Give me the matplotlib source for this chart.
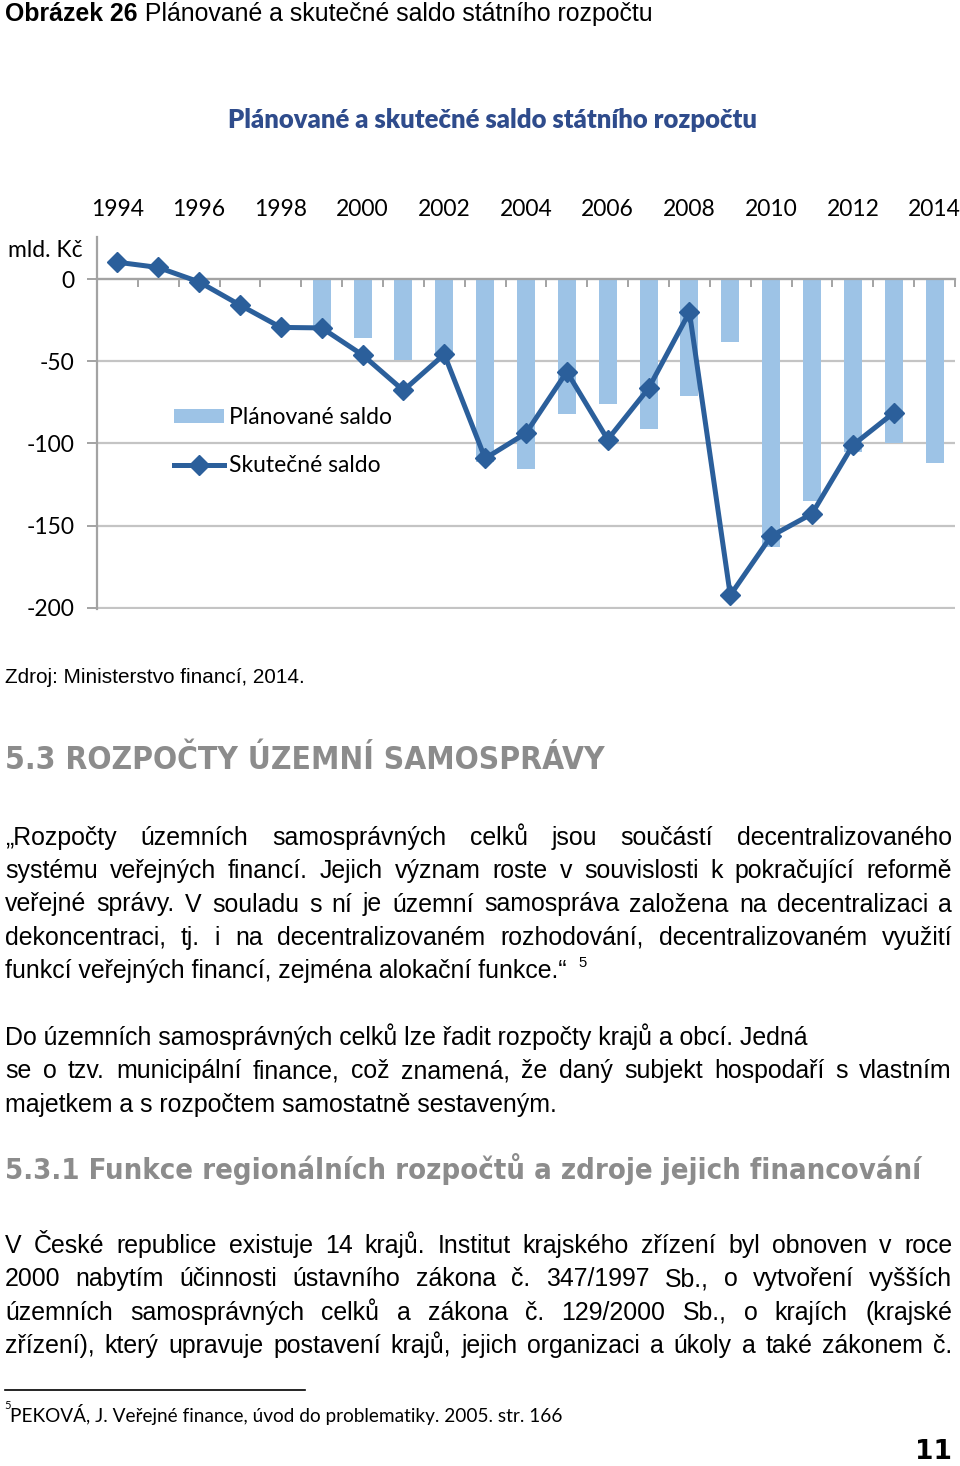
import matplotlib
matplotlib.use('Agg')
import matplotlib.pyplot as plt
from matplotlib import font_manager
from matplotlib.ticker import FixedLocator
import numpy as np

plt.rcParams['axes.unicode_minus'] = False

# data (mld. Kc)
years = list(range(1994, 2015))
planned = [0, 0, 0, 0, 0, -31, -35.6, -49, -46.2, -111.3, -115.7, -82, -76, -91.3,
           -70.8, -38.1, -162.9, -135, -105, -100, -112]
actual = [10.4, 7.2, -1.6, -15.7, -29.3, -29.6, -46.1, -67.7, -45.7, -109.1, -93.7,
          -56.3, -97.6, -66.4, -20.0, -192.4, -156.4, -142.8, -101.0, -81.3, np.nan]
yticks = [0, -50, -100, -150, -200]

para1 = ["„Rozpočty územních samosprávných celků jsou součástí decentralizovaného",
         "systému veřejných financí. Jejich význam roste v souvislosti k pokračující reformě",
         "veřejné správy. V souladu s ní je územní samospráva založena na decentralizaci a",
         "dekoncentraci, tj. i na decentralizovaném rozhodování, decentralizovaném využití",
         "funkcí veřejných financí, zejména alokační funkce.“"]
para2 = ["Do územních samosprávných celků lze řadit rozpočty krajů a obcí. Jedná",
         "se o tzv. municipální finance, což znamená, že daný subjekt hospodaří s vlastním",
         "majetkem a s rozpočtem samostatně sestaveným."]
para3 = ["V České republice existuje 14 krajů. Institut krajského zřízení byl obnoven v roce",
         "2000 nabytím účinnosti ústavního zákona č. 347/1997 Sb., o vytvoření vyšších",
         "územních samosprávných celků a zákona č. 129/2000 Sb., o krajích (krajské",
         "zřízení), který upravuje postavení krajů, jejich organizaci a úkoly a také zákonem č."]


def has_font(name):
    try:
        font_manager.findfont(font_manager.FontProperties(family=name), fallback_to_default=False)
        return True
    except Exception:
        return False


BODY = 'Liberation Sans Narrow' if has_font('Liberation Sans Narrow') else 'Liberation Sans'
CHART = 'Lato' if has_font('Lato') else 'DejaVu Sans'
FS = 16.5  # chart text size

fig = plt.figure(figsize=(9.6, 14.66), dpi=100)
page = fig.add_axes([0, 0, 1, 1])
page.set_xlim(0, 960)
page.set_ylim(1466, 0)
page.axis('off')
renderer = fig.canvas.get_renderer()


def width(s, size, **kw):
    t = page.text(0, 0, s, fontsize=size, **kw)
    w = t.get_window_extent(renderer).width
    t.remove()
    return w


def fit(s, w, **kw):
    return 10 * w / width(s, 10, **kw)


def justify(line, y, size, x0=5, x1=952, **kw):
    words = line.split()
    ws = [width(w, size, **kw) for w in words]
    gap = (x1 - x0 - sum(ws)) / (len(words) - 1)
    x = x0
    for w, wd in zip(words, ws):
        page.text(x, y, w, fontsize=size, va='baseline', **kw)
        x += wd + gap


# ---- chart ----
y0px, ppu = 279.3, 1.642
ax_top = y0px - 26 * ppu
ax_bot = y0px + 200.5 * ppu
ax = fig.add_axes([97 / 960, 1 - ax_bot / 1466, (955 - 97) / 960, (ax_bot - ax_top) / 1466])
ax.patch.set_alpha(0)
x = np.arange(len(years))
bars = ax.bar(x, planned, width=0.44, color='#9dc3e6', zorder=2, label='Plánované saldo')
line, = ax.plot(x, actual, color='#2b5f9b', lw=3.6, marker='D', ms=10, zorder=3,
                label='Skutečné saldo')
ax.set_xlim(-0.5, 20.5)
ax.set_ylim(-200.5, 26)
for s in ['top', 'right']:
    ax.spines[s].set_visible(False)
ax.spines['bottom'].set_position(('data', 0))
for s in ['bottom', 'left']:
    ax.spines[s].set_color('#a3a3a3')
    ax.spines[s].set_linewidth(1.6)
ax.set_yticks(yticks)
ax.yaxis.grid(True, color='#c4c4c4', lw=1.6, zorder=0)
ax.set_axisbelow(True)
ax.tick_params(axis='y', direction='out', length=7.2, width=1.4, color='#a3a3a3',
               pad=9, labelsize=FS, labelcolor='black')
for t in ax.get_yticklabels():
    t.set_family(CHART)
ax.xaxis.set_major_locator(FixedLocator(x[::2]))
ax.set_xticklabels([str(y) for y in years[::2]], family=CHART)
ax.xaxis.set_minor_locator(FixedLocator(np.arange(-0.5, 21, 1)))
ax.tick_params(axis='x', which='major', bottom=False, top=True, labelbottom=False,
               labeltop=True, length=0, pad=12, labelsize=FS, labelcolor='black')
ax.tick_params(axis='x', which='minor', bottom=True, top=False, direction='out',
               length=5.8, width=1.4, color='#a3a3a3')
ax.legend(handles=[bars, line], loc='upper left', bbox_to_anchor=(174, 407),
          bbox_transform=page.transData, frameon=False, borderpad=0, borderaxespad=0,
          handlelength=2.2, handletextpad=0.2, labelspacing=1.2, handleheight=0.6,
          prop={'family': CHART, 'size': FS})

page.text(8, 257, 'mld. Kč', family=CHART, fontsize=FS, va='baseline', color='black')
title = 'Plánované a skutečné saldo státního rozpočtu'
page.text(492.5, 128, title, ha='center', va='baseline', color='#2f4c8c', family=CHART,
          weight='heavy', fontsize=fit(title, 531, family=CHART, weight='heavy'))

# ---- page text ----
cap_b = 'Obrázek 26'
cap_n = ' Plánované a skutečné saldo státního rozpočtu'
wb = width(cap_b, 10, family=BODY, weight='bold')
wn = width(cap_n, 10, family=BODY)
cs = 10 * 652 / (wb + wn)
page.text(5, 21, cap_b, family=BODY, weight='bold', fontsize=cs, va='baseline')
page.text(5 + wb * cs / 10, 21, cap_n, family=BODY, fontsize=cs, va='baseline')

src = 'Zdroj: Ministerstvo financí, 2014.'
page.text(5, 683, src, family=BODY, va='baseline', fontsize=fit(src, 300, family=BODY))

hkw = dict(family='DejaVu Sans', weight='bold', stretch='condensed')
h1 = '5.3 ROZPOČTY ÚZEMNÍ SAMOSPRÁVY'
page.text(5, 769, h1, va='baseline', color='#8c8c8c', fontsize=fit(h1, 597, **hkw), **hkw)
h2 = '5.3.1 Funkce regionálních rozpočtů a zdroje jejich financování'
page.text(5, 1179, h2, va='baseline', color='#8c8c8c', fontsize=fit(h2, 910, **hkw), **hkw)

bs = fit(para1[-1], 565, family=BODY)
for i, l in enumerate(para1):
    yb = 845 + i * 33.25
    if i < len(para1) - 1:
        justify(l, yb, bs, family=BODY)
    else:
        page.text(5, yb, l, family=BODY, fontsize=bs, va='baseline')
page.text(578, 967, '5', family=BODY, fontsize=bs * 0.6, va='baseline')

for i, l in enumerate(para2):
    yb = 1045 + i * 33.4
    if i == 1:
        justify(l, yb, bs, family=BODY)
    else:
        page.text(5, yb, l, family=BODY, fontsize=bs, va='baseline')

for i, l in enumerate(para3):
    justify(l, 1253 + i * 33.3, bs, family=BODY)

page.plot([5, 305], [1390, 1390], color='black', lw=1.2)
foot = 'PEKOVÁ, J. Veřejné finance, úvod do problematiky. 2005. str. 166'
page.text(4, 1409, '5', family=CHART, fontsize=8, va='baseline')
page.text(10, 1422, foot, family=CHART, va='baseline', fontsize=fit(foot, 553, family=CHART))
page.text(952, 1465, '11', family='DejaVu Sans', weight='bold', ha='right', va='bottom',
          fontsize=fit('11', 37, family='DejaVu Sans', weight='bold'))

fig.savefig('out.png', dpi=100)
